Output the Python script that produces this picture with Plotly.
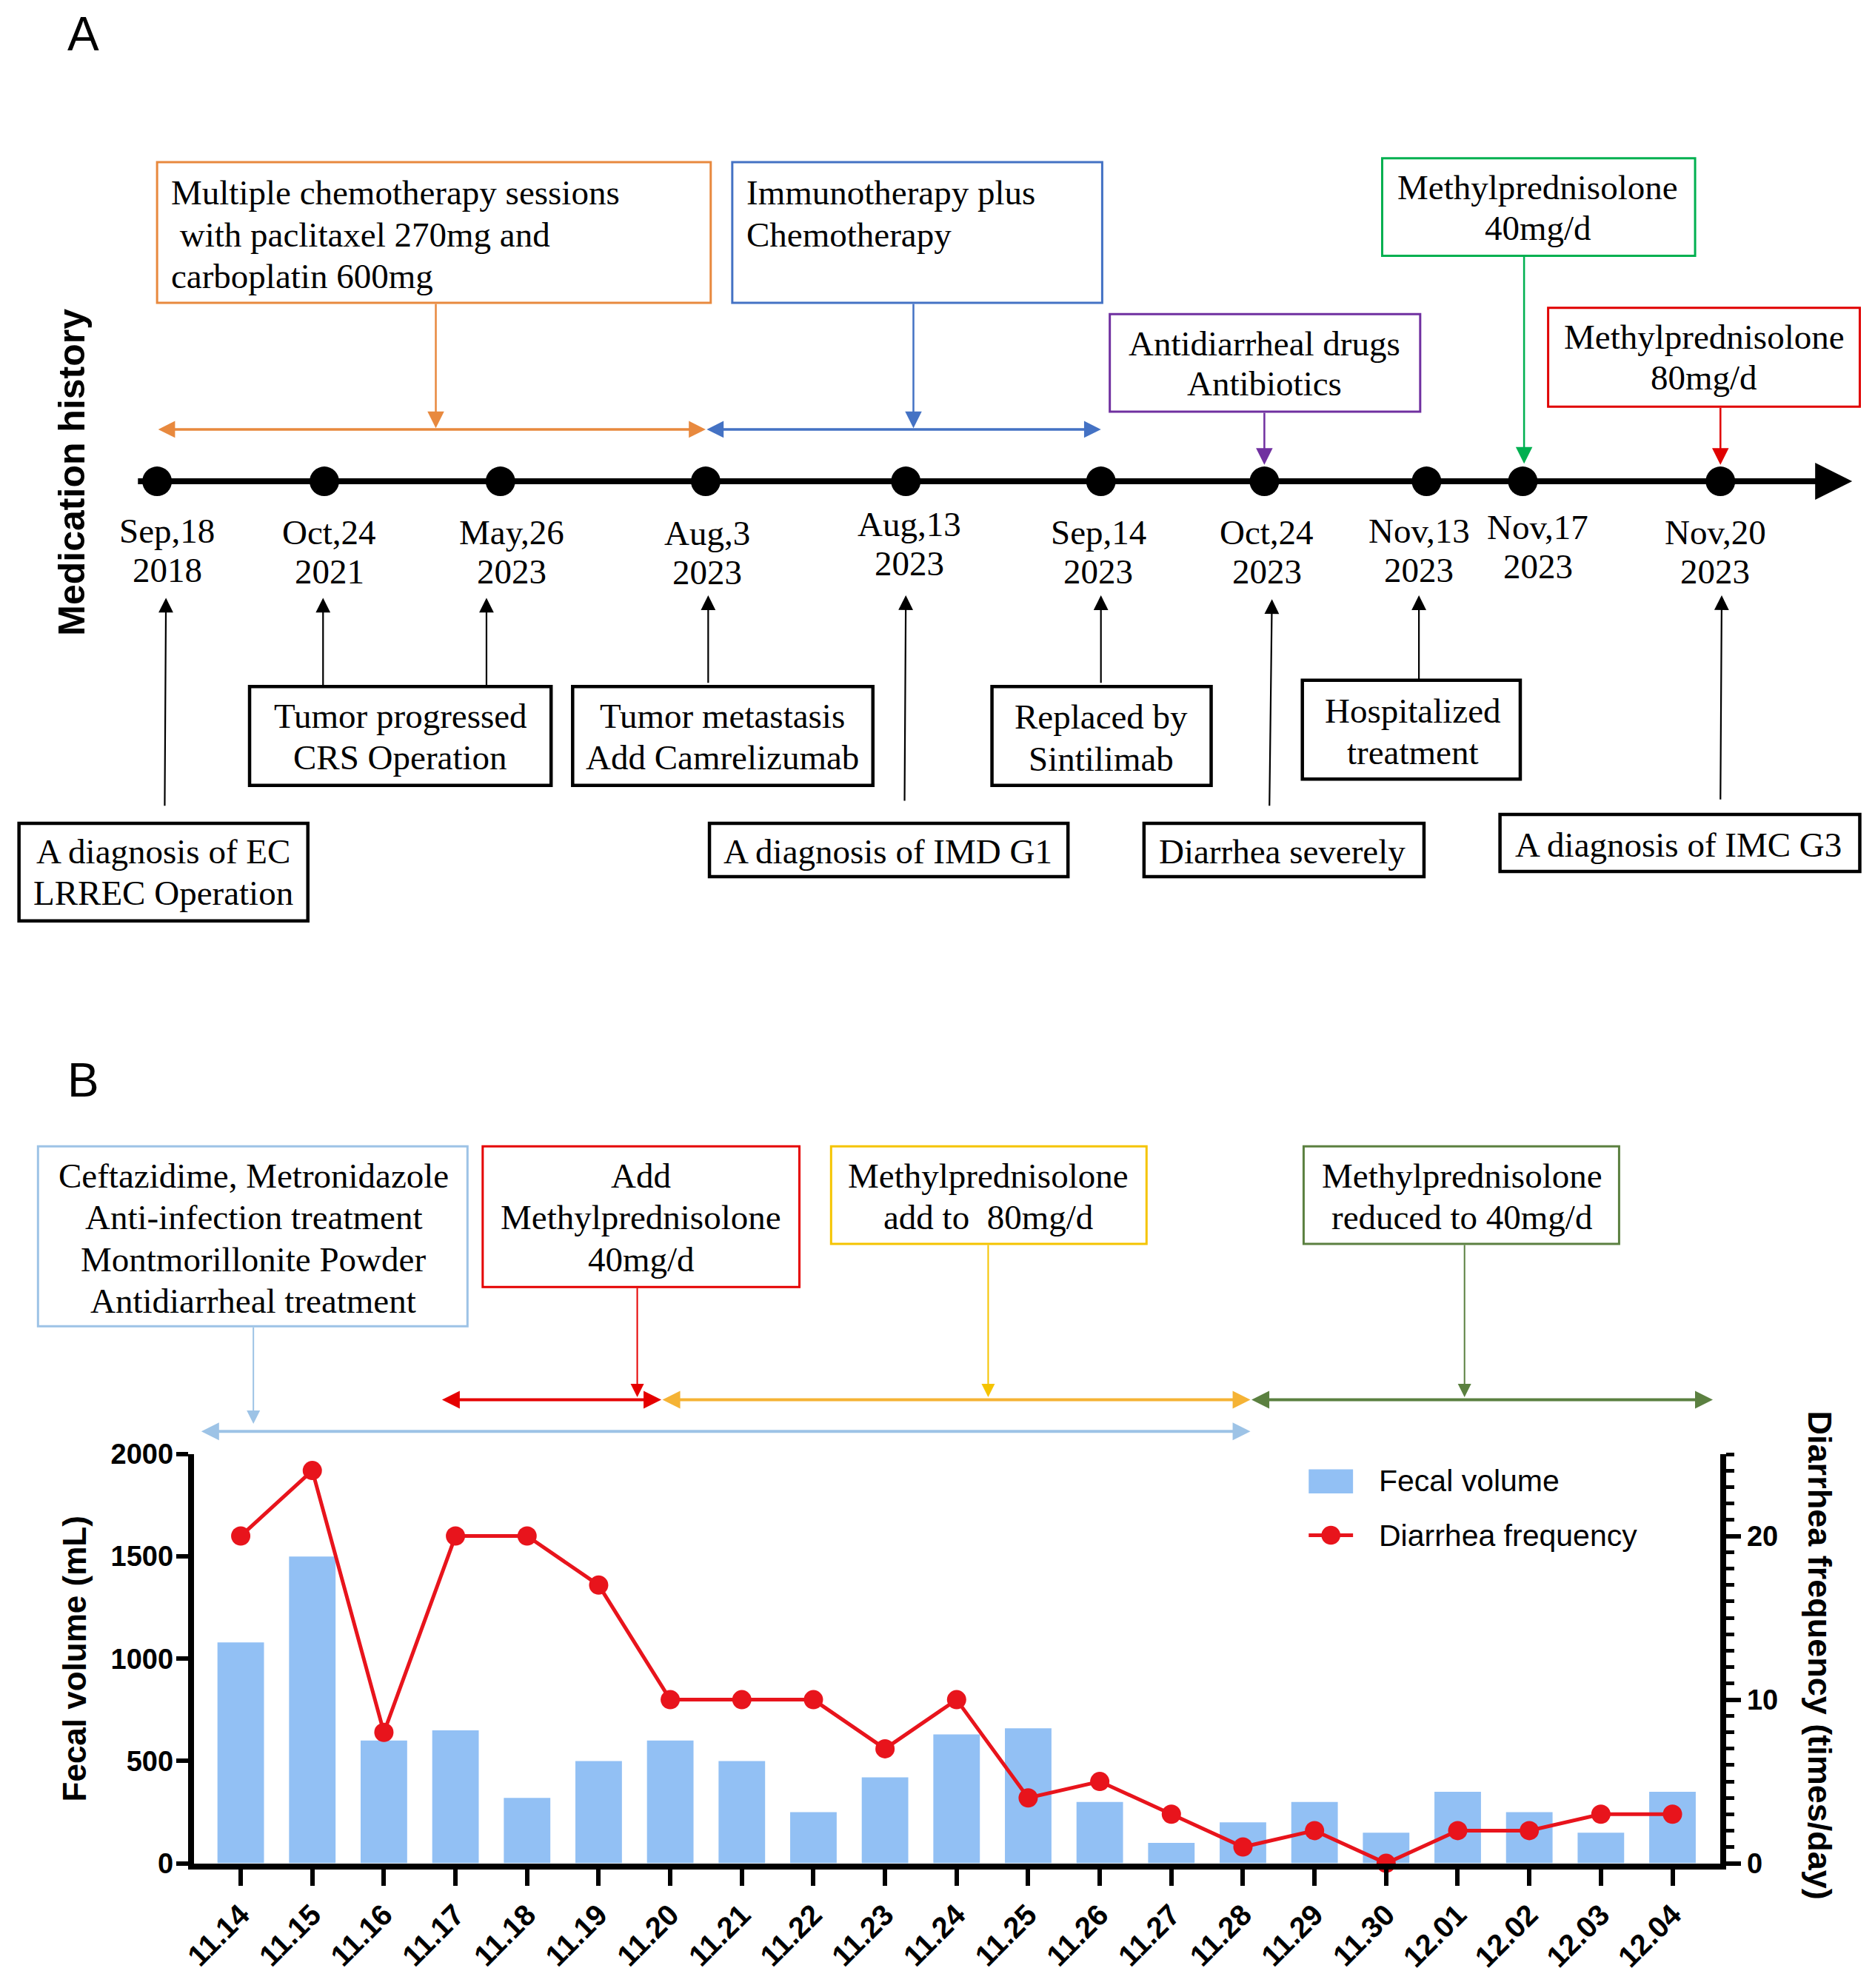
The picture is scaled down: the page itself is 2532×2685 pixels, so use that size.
import plotly.graph_objects as go

W, H = 2532, 2685
K = W / 1480.0  # reference-display units -> page pixels

# ---------------- Panel B data ----------------
days = ["11.14", "11.15", "11.16", "11.17", "11.18", "11.19", "11.20", "11.21",
        "11.22", "11.23", "11.24", "11.25", "11.26", "11.27", "11.28", "11.29",
        "11.30", "12.01", "12.02", "12.03", "12.04"]
fecal_volume_ml = [1080, 1500, 600, 650, 320, 500, 600, 500, 250, 420, 630,
                   660, 300, 100, 200, 300, 150, 350, 250, 150, 350]
diarrhea_times_per_day = [20, 24, 8, 20, 20, 17, 10, 10, 10, 7, 10,
                          4, 5, 3, 1, 2, 0, 2, 2, 3, 3]
left_ticks = [0, 500, 1000, 1500, 2000]
right_ticks = [0, 10, 20]
series_names = ["Fecal volume", "Diarrhea frequency"]

# ---------------- Panel A data ----------------
event_month_day = ["Sep,18", "Oct,24", "May,26", "Aug,3", "Aug,13", "Sep,14",
                   "Oct,24", "Nov,13", "Nov,17", "Nov,20"]
event_year = ["2018", "2021", "2023", "2023", "2023", "2023", "2023", "2023",
              "2023", "2023"]

# layout positions (reference display units)
event_pos = [124, 256, 395, 557, 715, 869, 998, 1126, 1202, 1358]
label_pos = [(132, 419), (260, 420), (404, 420), (558, 421), (718, 414),
             (867, 420), (1000, 420), (1120, 419), (1214, 416), (1354, 420)]

SERIF = "Liberation Serif, Times New Roman, serif"
SANS = "Liberation Sans, Arial, sans-serif"
BAR_C, LINE_C = "#92C0F4", "#E8141C"

fig = go.Figure()

fig.add_trace(go.Bar(
    x=days, y=fecal_volume_ml, name=series_names[0],
    marker=dict(color=BAR_C, line=dict(width=0)), width=0.65,
    xaxis="x", yaxis="y", showlegend=False))
fig.add_trace(go.Scatter(
    x=days, y=diarrhea_times_per_day, name=series_names[1],
    mode="lines+markers", line=dict(color=LINE_C, width=5),
    marker=dict(color=LINE_C, size=26),
    xaxis="x", yaxis="y2", showlegend=False, cliponaxis=False))
fig.add_trace(go.Scatter(
    x=[p * K for p in event_pos], y=[380 * K] * len(event_pos),
    mode="markers", marker=dict(color="black", size=40),
    xaxis="x3", yaxis="y3", showlegend=False, hoverinfo="skip"))

shapes = []
annotations = []


def P(v):
    return v * K


def rect(x0, y0, x1, y1, color, width, fill="rgba(0,0,0,0)"):
    shapes.append(dict(type="rect", xref="x3", yref="y3", x0=P(x0), y0=P(y0),
                       x1=P(x1), y1=P(y1), line=dict(color=color, width=width),
                       fillcolor=fill, layer="above"))


def text(x, y, s, size=47, anchor="center", family=SERIF, bold=False,
         angle=0, color="black"):
    annotations.append(dict(xref="x3", yref="y3", x=P(x), y=P(y), text=s,
                            showarrow=False, xanchor=anchor, yanchor="middle",
                            textangle=angle,
                            font=dict(family=family, size=size, color=color,
                                      weight="bold" if bold else "normal")))


def lines(x, ys, strs, anchor="center", size=47):
    for y, s in zip(ys, strs):
        text(x, y, s, size=size, anchor=anchor)


def arrow(x0, y0, x1, y1, color, width=2.5, size=1.8, both=False, head=2):
    a = dict(xref="x3", yref="y3", axref="x3", ayref="y3",
             x=P(x1), y=P(y1), ax=P(x0), ay=P(y0), text="", showarrow=True,
             arrowcolor=color, arrowwidth=width, arrowsize=size,
             arrowhead=head, standoff=0, startstandoff=0)
    if both:
        a.update(arrowside="end+start", startarrowhead=head,
                 startarrowsize=size)
    annotations.append(a)


# ---------------- Panel A ----------------
text(66, 27, "A", size=64, family=SANS)
text(57, 373, "Medication history", size=50, family=SANS, bold=True, angle=-90)

# timeline
arrow(108, 380, 1462, 380, "black", width=8, size=1.25)
for i, (lx, ly) in enumerate(label_pos):
    text(lx, ly, event_month_day[i])
    text(lx, ly + 31, event_year[i])

ORANGE, BLUE, PURPLE, GREEN, RED = "#E8893E", "#4472C4", "#7030A0", "#00B050", "#E00000"

rect(124, 128, 561, 239, ORANGE, 3)
lines(134, [152, 185, 218], ["Multiple chemotherapy sessions",
                             " with paclitaxel 270mg and",
                             "carboplatin 600mg"], anchor="left")
arrow(344, 239, 344, 338, ORANGE, width=2.5)
arrow(124, 339, 557, 339, ORANGE, width=3.5, size=1.3, both=True)

rect(578, 128, 870, 239, BLUE, 3)
lines(588, [152, 185], ["Immunotherapy plus", "Chemotherapy"], anchor="left")
arrow(721, 239, 721, 338, BLUE, width=2.5)
arrow(557, 339, 869, 339, BLUE, width=3.5, size=1.3, both=True)

rect(876, 248, 1121, 325, PURPLE, 3)
lines(998, [271, 303], ["Antidiarrheal drugs", "Antibiotics"])
arrow(998, 325, 998, 367, PURPLE, width=2.5)

rect(1091, 125, 1338, 202, GREEN, 3)
lines(1214, [148, 180], ["Methylprednisolone", "40mg/d"])
arrow(1203, 202, 1203, 366, GREEN, width=2.5)

rect(1222, 243, 1468, 321, RED, 3)
lines(1345, [266, 298], ["Methylprednisolone", "80mg/d"])
arrow(1358, 321, 1358, 367, RED, width=2.5)

# bottom event boxes
BK = "black"
arrow(130, 637, 131, 472, BK, width=2.2)
rect(15, 650, 243, 727, BK, 4.5)
lines(129, [672, 705], ["A diagnosis of EC", "LRREC Operation"])

arrow(255, 542, 255, 472, BK, width=2.2)
arrow(384, 542, 384, 472, BK, width=2.2)
rect(197, 542, 435, 620, BK, 4.5)
lines(316, [565, 598], ["Tumor progressed", "CRS Operation"])

arrow(559, 540, 559, 470, BK, width=2.2)
rect(452, 542, 689, 620, BK, 4.5)
lines(570, [565, 598], ["Tumor metastasis", "Add Camrelizumab"])

arrow(714, 633, 715, 470, BK, width=2.2)
rect(560, 650, 843, 692, BK, 4.5)
lines(701, [672], ["A diagnosis of IMD G1"])

arrow(869, 540, 869, 470, BK, width=2.2)
rect(783, 542, 956, 620, BK, 4.5)
lines(869, [566, 599], ["Replaced by", "Sintilimab"])

arrow(1002, 637, 1004, 473, BK, width=2.2)
rect(903, 650, 1124, 692, BK, 4.5)
lines(1012, [672], ["Diarrhea severely"])

arrow(1120, 537, 1120, 470, BK, width=2.2)
rect(1028, 537, 1200, 615, BK, 4.5)
lines(1115, [561, 594], ["Hospitalized", "treatment"])

arrow(1358, 632, 1359, 470, BK, width=2.2)
rect(1184, 643, 1468, 688, BK, 4.5)
lines(1325, [667], ["A diagnosis of IMC G3"])

# ---------------- Panel B annotations ----------------
text(66, 853, "B", size=64, family=SANS)
LB, RD, YL, YL2, GR = "#9DC3E6", "#E50000", "#F5C400", "#F5B335", "#5B8040"

rect(30, 905, 369, 1047, LB, 3)
lines(200, [928, 961, 994, 1027], ["Ceftazidime, Metronidazole",
                                   "Anti-infection treatment",
                                   "Montmorillonite Powder",
                                   "Antidiarrheal treatment"])
arrow(200, 1047, 200, 1124, LB, width=2)
arrow(158, 1130, 987, 1130, LB, width=4, size=1.2, both=True)

rect(381, 905, 631, 1016, RD, 3)
lines(506, [928, 961, 994], ["Add", "Methylprednisolone", "40mg/d"])
arrow(503, 1016, 503, 1103, RD, width=2)
arrow(348, 1105, 522, 1105, RD, width=4, size=1.2, both=True)

rect(656, 905, 905, 982, YL, 3)
lines(780, [928, 961], ["Methylprednisolone", "add to  80mg/d"])
arrow(780, 982, 780, 1103, YL, width=2)
arrow(522, 1105, 987, 1105, YL2, width=4, size=1.2, both=True)

rect(1029, 905, 1278, 982, GR, 3)
lines(1154, [928, 961], ["Methylprednisolone", "reduced to 40mg/d"])
arrow(1156, 982, 1156, 1103, GR, width=2)
arrow(987, 1105, 1352, 1105, GR, width=4, size=1.2, both=True)

text(1437, 1307, "Diarrhea frequency (times/day)", size=45, family=SANS,
     bold=True, angle=90)

# legend (drawn by hand so the swatches match the reference size)
rect(1033, 1160, 1068, 1179, BAR_C, 0, fill=BAR_C)
shapes.append(dict(type="line", xref="x3", yref="y3", x0=P(1033), y0=P(1212),
                   x1=P(1068), y1=P(1212), line=dict(color=LINE_C, width=5),
                   layer="above"))
shapes.append(dict(type="circle", xref="x3", yref="y3", x0=P(1043), y0=P(1204.5),
                   x1=P(1058), y1=P(1219.5), line=dict(width=0),
                   fillcolor=LINE_C, layer="above"))
text(1087, 1169, series_names[0], size=41, family=SANS, anchor="left")
text(1087, 1212, series_names[1], size=41, family=SANS, anchor="left")

# ---------------- axes ----------------
xd0, xd1 = 153 * K / W, 1358 * K / W
yd0, yd1 = 1 - 1471 * K / H, 1 - 1148 * K / H
tickfont = dict(family=SANS, size=38, color="black", weight="bold")

fig.update_layout(
    width=W, height=H,
    margin=dict(l=0, r=0, t=0, b=0, pad=0, autoexpand=False),
    paper_bgcolor="white", plot_bgcolor="rgba(0,0,0,0)",
    showlegend=False,
    xaxis=dict(domain=[xd0, xd1], anchor="y", type="category",
               categoryorder="array", categoryarray=days,
               range=[-0.655, 20.67], showline=True, linecolor="black",
               linewidth=8, ticks="outside", ticklen=22, tickwidth=6,
               tickcolor="black", tickangle=-45, automargin=False,
               tickfont=dict(family=SANS, size=40, color="black",
                             weight="bold"),
               showgrid=False, zeroline=False, fixedrange=True),
    yaxis=dict(domain=[yd0, yd1], anchor="x", range=[0, 2000],
               tickvals=left_ticks, showline=True, linecolor="black",
               linewidth=8, ticks="outside", ticklen=16, tickwidth=6,
               tickcolor="black", tickfont=tickfont, showgrid=False,
               zeroline=False, fixedrange=True, automargin=False,
               ticklabelstandoff=-4,
               title=dict(text="Fecal volume (mL)", standoff=22,
                          font=dict(family=SANS, size=44, color="black",
                                    weight="bold"))),
    yaxis2=dict(overlaying="y", side="right", anchor="x", range=[0, 25],
                tickvals=right_ticks, showline=True, linecolor="black",
                linewidth=8, ticks="outside", ticklen=20, tickwidth=6,
                tickcolor="black", tickfont=tickfont, showgrid=False,
                zeroline=False, fixedrange=True, automargin=False,
                minor=dict(dtick=1, ticks="outside", ticklen=11,
                           tickwidth=5, tickcolor="black")),
    xaxis3=dict(domain=[0, 1], anchor="y3", range=[0, W], visible=False,
                fixedrange=True, automargin=False),
    yaxis3=dict(domain=[0, 1], anchor="x3", range=[H, 0], visible=False,
                fixedrange=True, automargin=False),
    shapes=shapes, annotations=annotations,
)

fig.write_html(
    "out.html",
    config={"displayModeBar": False},
    post_script=("document.body.style.margin='0px';"
                 "document.body.style.padding='0px';"
                 "document.documentElement.style.overflow='hidden';"
                 "document.body.style.overflow='hidden';"))
